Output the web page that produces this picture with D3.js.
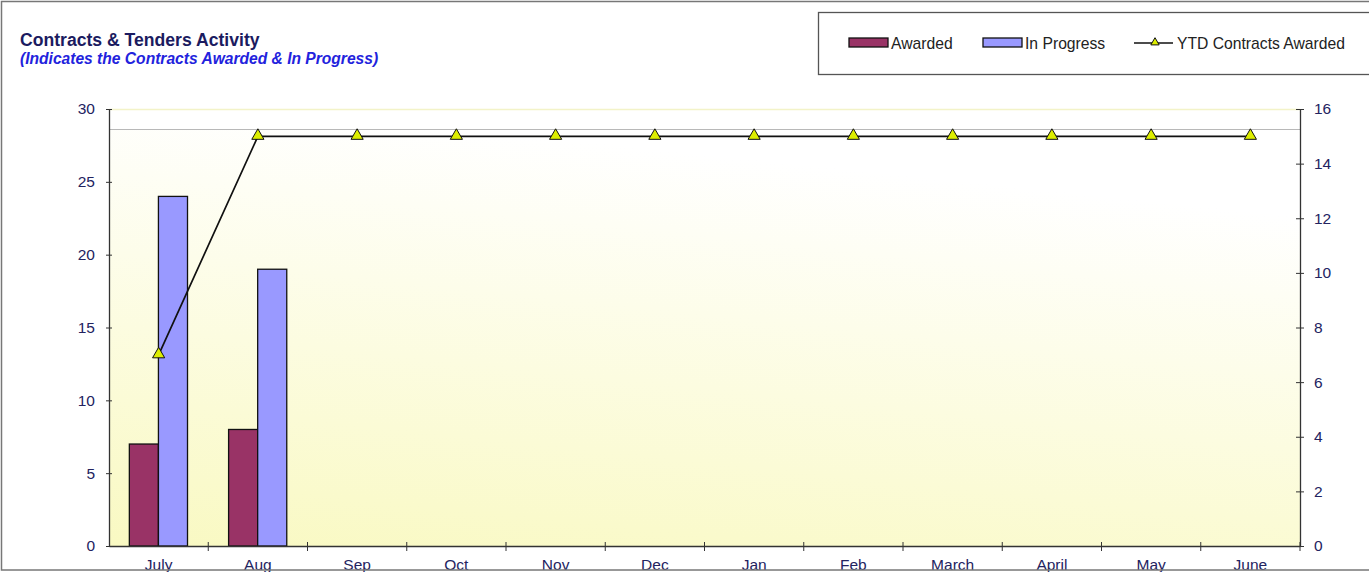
<!DOCTYPE html>
<html>
<head>
<meta charset="utf-8">
<script src="https://cdn.jsdelivr.net/npm/d3@7"></script>
<style>
  html, body { margin: 0; padding: 0; background: #fff; }
  svg { display: block; font-family: "Liberation Sans", Arial, sans-serif; }
</style>
</head>
<body>
<svg id="chart" width="1369" height="572"></svg>
<script>
const months = ["July","Aug","Sep","Oct","Nov","Dec","Jan","Feb","March","April","May","June"];
const awarded = [7, 8, null, null, null, null, null, null, null, null, null, null];
const inProgress = [24, 19, null, null, null, null, null, null, null, null, null, null];
const ytdAwarded = [7, 15, 15, 15, 15, 15, 15, 15, 15, 15, 15, 15];
const leftTicks = [0, 5, 10, 15, 20, 25, 30];
const rightTicks = [0, 2, 4, 6, 8, 10, 12, 14, 16];

const svg = d3.select("#chart");
const L = 109, R = 1300, T = 109, B = 546;
const navy = "#23235f";
const fontFam = "'Liberation Sans', Arial, sans-serif";

// gradient
const defs = svg.append("defs");
const g1 = defs.append("linearGradient").attr("id", "bg").attr("x1", "0.3").attr("y1", "0").attr("x2", "0").attr("y2", "1");
g1.append("stop").attr("offset", "0").attr("stop-color", "#ffffff");
g1.append("stop").attr("offset", "0.35").attr("stop-color", "#fdfdea");
g1.append("stop").attr("offset", "1").attr("stop-color", "#f9f9c2");

const x = d3.scaleBand().domain(months).range([L, R]).paddingInner(0).paddingOuter(0);
const yL = d3.scaleLinear().domain([0, 30]).range([B, T]);
const yR = d3.scaleLinear().domain([0, 16]).range([B, T]);

// plot background
svg.append("rect").attr("x", L).attr("y", T).attr("width", R - L).attr("height", B - T).attr("fill", "#fff");
svg.append("rect").attr("x", L).attr("y", 129).attr("width", R - L).attr("height", B - 129).attr("fill", "url(#bg)");
svg.append("line").attr("x1", L).attr("x2", R).attr("y1", T + 0.5).attr("y2", T + 0.5).attr("stroke", "#f3f3c8").attr("stroke-width", 1.5);
svg.append("line").attr("x1", L).attr("x2", R).attr("y1", 129.5).attr("y2", 129.5).attr("stroke", "#b8b8b8").attr("stroke-width", 1);

// bars
const bw = x.bandwidth();
const barW = bw * 0.293;
const off = bw * 0.205;
svg.append("g").selectAll("rect").data(months.map((m, i) => ({ m, v: awarded[i] })).filter(d => d.v != null))
  .join("rect")
  .attr("x", d => x(d.m) + off).attr("y", d => yL(d.v))
  .attr("width", barW).attr("height", d => yL(0) - yL(d.v))
  .attr("fill", "#993366").attr("stroke", "#111").attr("stroke-width", 1.3);
svg.append("g").selectAll("rect").data(months.map((m, i) => ({ m, v: inProgress[i] })).filter(d => d.v != null))
  .join("rect")
  .attr("x", d => x(d.m) + off + barW).attr("y", d => yL(d.v))
  .attr("width", barW).attr("height", d => yL(0) - yL(d.v))
  .attr("fill", "#9999ff").attr("stroke", "#111").attr("stroke-width", 1.3);

// axes
const axL = d3.axisLeft(yL).tickValues(leftTicks).tickSizeInner(6).tickSizeOuter(0).tickPadding(8);
const gL = svg.append("g").attr("transform", `translate(${L},0)`).call(axL);
const axR = d3.axisRight(yR).tickValues(rightTicks).tickSizeInner(5).tickSizeOuter(0).tickPadding(9);
const gR = svg.append("g").attr("transform", `translate(${R},0)`).call(axR);
const axB = d3.axisBottom(x).tickSize(0).tickPadding(13);
const gB = svg.append("g").attr("transform", `translate(0,${B})`).call(axB);
[gL, gR, gB].forEach(g => {
  g.select(".domain").attr("stroke", "#333").attr("stroke-width", 1.3);
  g.selectAll(".tick line").attr("stroke", "#333");
  g.selectAll("text").attr("fill", navy).style("font-size", "15.5px").style("font-family", fontFam);
});
gL.selectAll(".tick line").attr("x2", 0).attr("x1", -6).attr("transform", "translate(3,0)");
gR.selectAll(".tick line").attr("transform", "translate(-4,0)").attr("x2", 8);
// category boundary ticks
svg.append("g").selectAll("line").data(months.slice(1).concat(["__end"]))
  .join("line")
  .attr("x1", (d, i) => i < months.length - 1 ? x(d) : R)
  .attr("x2", (d, i) => i < months.length - 1 ? x(d) : R)
  .attr("y1", B - 4).attr("y2", B + 5).attr("stroke", "#333").attr("stroke-width", 1);

// line
const pts = months.map((m, i) => ({ m, v: ytdAwarded[i] }));
svg.append("path").datum(pts)
  .attr("d", d3.line().x(d => x(d.m) + bw / 2).y(d => yR(d.v)))
  .attr("fill", "none").attr("stroke", "#111").attr("stroke-width", 1.7);
svg.append("g").selectAll("path").data(pts).join("path")
  .attr("transform", d => `translate(${x(d.m) + bw / 2},${yR(d.v) - 0.5})`)
  .attr("d", d3.symbol(d3.symbolTriangle, 64))
  .attr("fill", "#ddee00").attr("stroke", "#111").attr("stroke-width", 1);

// title
svg.append("text").attr("x", 20).attr("y", 46).text("Contracts & Tenders Activity")
  .attr("fill", "#1b1b60").style("font-size", "17.6px").style("font-weight", "bold");
svg.append("text").attr("x", 20).attr("y", 64).text("(Indicates the Contracts Awarded & In Progress)")
  .attr("fill", "#2222dd").style("font-size", "15.6px").style("font-weight", "bold").style("font-style", "italic");

// legend
svg.append("rect").attr("x", 818.5).attr("y", 12.5).attr("width", 600).attr("height", 62)
  .attr("fill", "#fff").attr("stroke", "#555").attr("stroke-width", 1.3);
const lg = svg.append("g").style("font-size", "15.7px").attr("fill", "#222");
lg.append("rect").attr("x", 849).attr("y", 38).attr("width", 39).attr("height", 9).attr("fill", "#993366").attr("stroke", "#111").attr("stroke-width", 1.3);
lg.append("text").attr("x", 891).attr("y", 48.5).text("Awarded");
lg.append("rect").attr("x", 983).attr("y", 38).attr("width", 39).attr("height", 9).attr("fill", "#9999ff").attr("stroke", "#111").attr("stroke-width", 1.3);
lg.append("text").attr("x", 1025).attr("y", 48.5).text("In Progress");
lg.append("line").attr("x1", 1134).attr("x2", 1173).attr("y1", 43).attr("y2", 43).attr("stroke", "#111").attr("stroke-width", 1.5);
lg.append("path").attr("transform", "translate(1155,42.5)").attr("d", d3.symbol(d3.symbolTriangle, 30))
  .attr("fill", "#ddee00").attr("stroke", "#111").attr("stroke-width", 1);
lg.append("text").attr("x", 1177).attr("y", 48.5).text("YTD Contracts Awarded");

// outer frame
svg.append("rect").attr("x", 1.5).attr("y", 1.5).attr("width", 1380).attr("height", 568.5)
  .attr("fill", "none").attr("stroke", "#777").attr("stroke-width", 1.5);
</script>
</body>
</html>
